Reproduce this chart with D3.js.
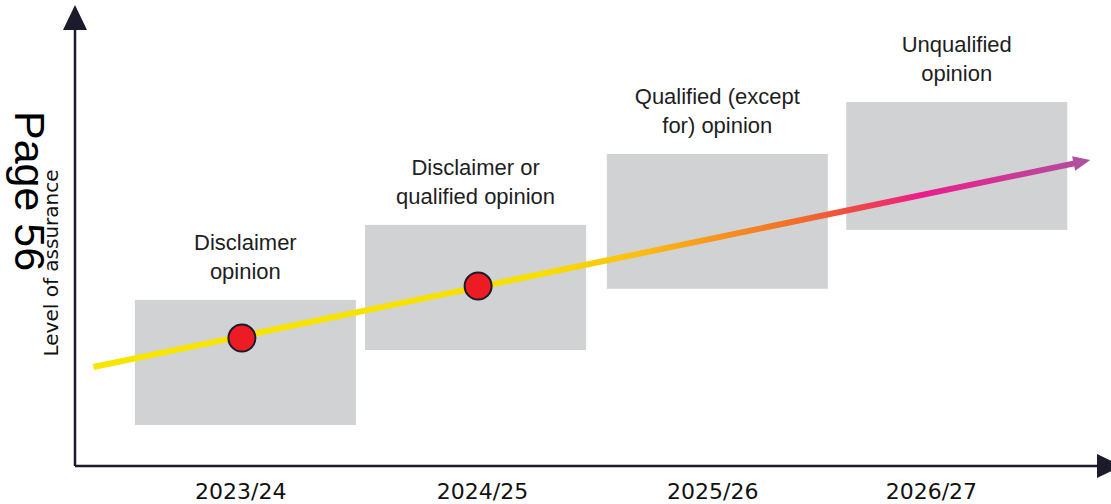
<!DOCTYPE html>
<html>
<head>
<meta charset="utf-8">
<script src="https://cdn.jsdelivr.net/npm/d3@7"></script>
<style>
  html, body { margin: 0; padding: 0; background: #fff; }
  svg { display: block; }
</style>
</head>
<body>
<div id="chart"></div>
<script>
// Niveau d'assurance attendu par exercice

const periods = ["2023/24", "2024/25", "2025/26", "2026/27"];
const periodTickPos = [0.72, 1.77, 2.77, 3.72];

// boîtes grises (x en unités "exercice", y en niveau d'assurance 0-100)
const boxStart = [0.26, 1.26, 2.31, 3.35];
const boxEnd   = [1.22, 2.22, 3.27, 4.31];
const boxLow   = [8.7, 25.0, 38.3, 51.1];
const boxHigh  = [35.9, 52.2, 67.6, 78.9];

const opinionLabels = [
  ["Disclaimer", "opinion"],
  ["Disclaimer or", "qualified opinion"],
  ["Qualified (except", "for) opinion"],
  ["Unqualified", "opinion"]
];

// flèche de tendance
const trendX = [0.08, 4.41];
const trendY = [21.3, 66.3];

// points atteints
const dotX = [0.725, 1.751];
const dotY = [27.6, 38.9];

const width = 1111;
const height = 504;
const axisColor = "#1b1b2b";

const svg = d3.select("#chart")
  .append("svg")
  .attr("width", width)
  .attr("height", height);

const x = d3.scaleLinear().domain([0, 4.5]).range([75, 1111]);
const y = d3.scaleLinear().domain([0, 100]).range([465, 5]);

const defs = svg.append("defs");

// dégradé jaune -> orange -> rose -> violet
const grad = defs.append("linearGradient")
  .attr("id", "trendGrad")
  .attr("gradientUnits", "userSpaceOnUse")
  .attr("x1", x(trendX[0])).attr("y1", 0)
  .attr("x2", x(trendX[1])).attr("y2", 0);

[
  [0, "#f7e600"],
  [0.45, "#f7df00"],
  [0.55, "#fbbd14"],
  [0.62, "#f7971d"],
  [0.71, "#f26b2a"],
  [0.77, "#ef4448"],
  [0.83, "#ec1c8c"],
  [1, "#b1509f"]
].forEach(s => {
  grad.append("stop").attr("offset", s[0]).attr("stop-color", s[1]);
});

// Boîtes
svg.append("g")
  .selectAll("rect")
  .data(periods)
  .join("rect")
  .attr("x", (d, i) => x(boxStart[i]))
  .attr("y", (d, i) => y(boxHigh[i]))
  .attr("width", (d, i) => x(boxEnd[i]) - x(boxStart[i]))
  .attr("height", (d, i) => y(boxLow[i]) - y(boxHigh[i]))
  .attr("fill", "#d1d2d4");

// Libellés d'opinion au-dessus des boîtes
const labels = svg.append("g")
  .style("font-family", "'Liberation Sans', Arial, sans-serif")
  .style("font-size", "22px")
  .attr("fill", "#1e1e1e")
  .attr("text-anchor", "middle");

opinionLabels.forEach((lines, i) => {
  const cx = (x(boxStart[i]) + x(boxEnd[i])) / 2;
  const base = y(boxHigh[i]) - 21;
  lines.forEach((t, j) => {
    labels.append("text")
      .attr("x", cx)
      .attr("y", base - (lines.length - 1 - j) * 29)
      .text(t);
  });
});

// Flèche de tendance
const x0 = x(trendX[0]), y0 = y(trendY[0]);
const x1 = x(trendX[1]), y1 = y(trendY[1]);
const ang = Math.atan2(y1 - y0, x1 - x0);
const headLen = 17, headHalf = 7.5;
const bx = x1 - headLen * Math.cos(ang), by = y1 - headLen * Math.sin(ang);

svg.append("line")
  .attr("x1", x0).attr("y1", y0)
  .attr("x2", bx + 2 * Math.cos(ang)).attr("y2", by + 2 * Math.sin(ang))
  .attr("stroke", "url(#trendGrad)")
  .attr("stroke-width", 6);

svg.append("path")
  .attr("d", d3.line()([
    [x1, y1],
    [bx + headHalf * Math.sin(ang), by - headHalf * Math.cos(ang)],
    [bx - headHalf * Math.sin(ang), by + headHalf * Math.cos(ang)]
  ]) + "Z")
  .attr("fill", "#b1509f");

// Points
svg.append("g")
  .selectAll("circle")
  .data(dotX)
  .join("circle")
  .attr("cx", d => x(d))
  .attr("cy", (d, i) => y(dotY[i]))
  .attr("r", 13.5)
  .attr("fill", "#ed1c24")
  .attr("stroke", axisColor)
  .attr("stroke-width", 2);

// Axes
const axisY = y(0) + 1;
svg.append("line")
  .attr("x1", x(0)).attr("y1", axisY)
  .attr("x2", x(0)).attr("y2", 28)
  .attr("stroke", axisColor).attr("stroke-width", 2.5);
svg.append("path")
  .attr("d", `M${x(0)},5 L${x(0) - 12},30 L${x(0) + 12},30 Z`)
  .attr("fill", axisColor);

svg.append("line")
  .attr("x1", x(0)).attr("y1", axisY)
  .attr("x2", 1099).attr("y2", axisY)
  .attr("stroke", axisColor).attr("stroke-width", 2.5);
svg.append("path")
  .attr("d", `M1122,${axisY} L1097,${axisY - 12} L1097,${axisY + 12} Z`)
  .attr("fill", axisColor);

// Libellés de l'axe X
svg.append("g")
  .selectAll("text")
  .data(periods)
  .join("text")
  .attr("x", (d, i) => x(periodTickPos[i]))
  .attr("y", 499)
  .attr("text-anchor", "middle")
  .style("font-family", "'DejaVu Sans', Verdana, sans-serif")
  .style("font-size", "22px")
  .attr("fill", "#111")
  .text(d => d);

// Titre de l'axe Y
svg.append("text")
  .attr("transform", "translate(58,263) rotate(-90)")
  .attr("text-anchor", "middle")
  .style("font-family", "'DejaVu Sans', Verdana, sans-serif")
  .style("font-size", "20px")
  .attr("fill", "#111")
  .text("Level of assurance");

// Numéro de page
svg.append("text")
  .attr("transform", "translate(15,111) rotate(90)")
  .attr("text-anchor", "start")
  .style("font-family", "'Liberation Sans', Arial, sans-serif")
  .style("font-size", "43px")
  .attr("fill", "#000")
  .text("Page 56");
</script>
</body>
</html>
